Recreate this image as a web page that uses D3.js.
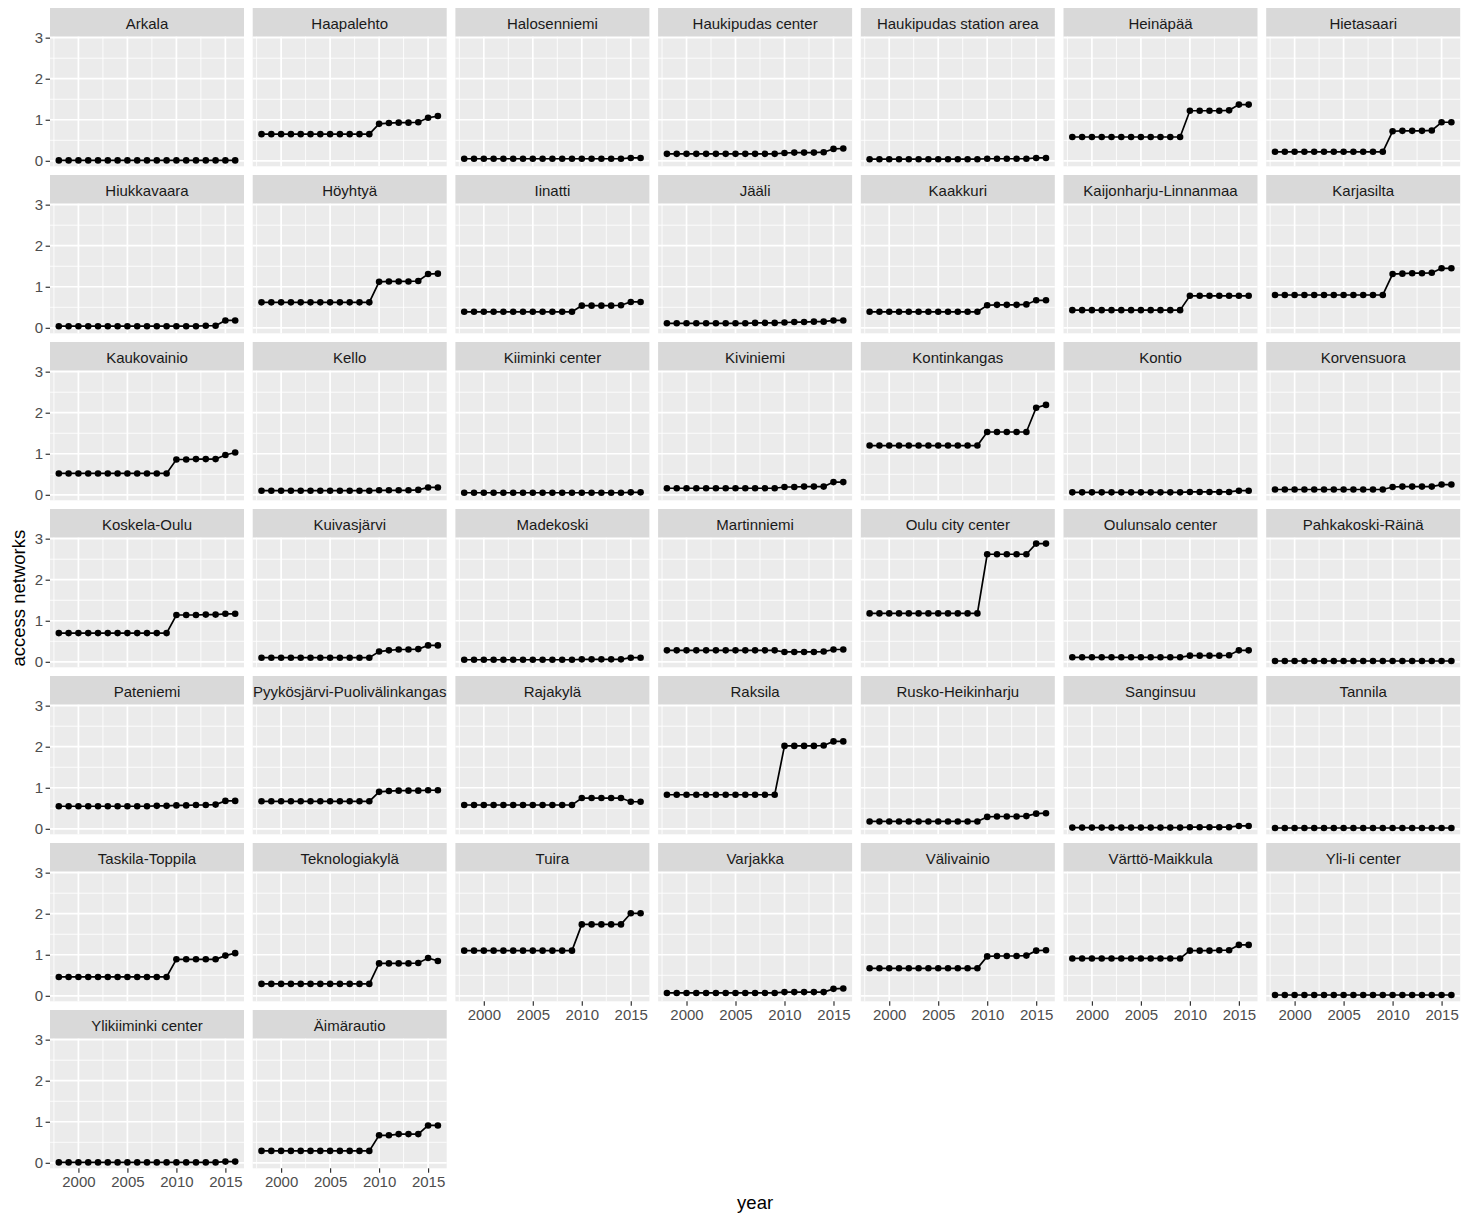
<!DOCTYPE html>
<html>
<head>
<meta charset="utf-8">
<script src="https://cdn.jsdelivr.net/npm/d3@7"></script>
<style>
  html, body { margin: 0; padding: 0; background: #ffffff; }
  svg { display: block; font-family: "Liberation Sans", Arial, sans-serif; }
</style>
</head>
<body>
<svg id="chart" width="1461" height="1216"></svg>
<script>
// Years observed for every region
const years = [1998, 1999, 2000, 2001, 2002, 2003, 2004, 2005, 2006, 2007,
               2008, 2009, 2010, 2011, 2012, 2013, 2014, 2015, 2016];

// Facet order (alphabetical, as in the panel grid)
const regions = [
  "Arkala", "Haapalehto", "Halosenniemi", "Haukipudas center", "Haukipudas station area", "Heinäpää", "Hietasaari",
  "Hiukkavaara", "Höyhtyä", "Iinatti", "Jääli", "Kaakkuri", "Kaijonharju-Linnanmaa", "Karjasilta",
  "Kaukovainio", "Kello", "Kiiminki center", "Kiviniemi", "Kontinkangas", "Kontio", "Korvensuora",
  "Koskela-Oulu", "Kuivasjärvi", "Madekoski", "Martinniemi", "Oulu city center", "Oulunsalo center", "Pahkakoski-Räinä",
  "Pateniemi", "Pyykösjärvi-Puolivälinkangas", "Rajakylä", "Raksila", "Rusko-Heikinharju", "Sanginsuu", "Tannila",
  "Taskila-Toppila", "Teknologiakylä", "Tuira", "Varjakka", "Välivainio", "Värttö-Maikkula", "Yli-Ii center",
  "Ylikiiminki center", "Äimärautio"
];

// Access networks per region, one row per region in the order above, one value per year
const accessNetworks = [
  [0.01,0.01,0.01,0.01,0.01,0.01,0.01,0.01,0.01,0.01,0.01,0.01,0.01,0.01,0.01,0.01,0.01,0.01,0.01],
  [0.65,0.65,0.65,0.65,0.65,0.65,0.65,0.65,0.65,0.65,0.65,0.65,0.90,0.92,0.93,0.93,0.94,1.05,1.09],
  [0.05,0.05,0.05,0.05,0.05,0.05,0.05,0.05,0.05,0.05,0.05,0.05,0.05,0.05,0.05,0.05,0.05,0.07,0.07],
  [0.17,0.17,0.17,0.17,0.17,0.17,0.17,0.17,0.17,0.17,0.17,0.17,0.19,0.20,0.20,0.20,0.21,0.29,0.30],
  [0.04,0.04,0.04,0.04,0.04,0.04,0.04,0.04,0.04,0.04,0.04,0.04,0.05,0.05,0.05,0.05,0.05,0.07,0.07],
  [0.58,0.58,0.58,0.58,0.58,0.58,0.58,0.58,0.58,0.58,0.58,0.58,1.22,1.22,1.22,1.22,1.23,1.37,1.37],
  [0.22,0.22,0.22,0.22,0.22,0.22,0.22,0.22,0.22,0.22,0.22,0.22,0.72,0.73,0.73,0.73,0.74,0.94,0.94],

  [0.04,0.04,0.04,0.04,0.04,0.04,0.04,0.04,0.04,0.04,0.04,0.04,0.04,0.04,0.04,0.05,0.05,0.18,0.18],
  [0.62,0.62,0.62,0.62,0.62,0.62,0.62,0.62,0.62,0.62,0.62,0.62,1.12,1.13,1.13,1.13,1.14,1.31,1.32],
  [0.39,0.39,0.39,0.39,0.39,0.39,0.39,0.39,0.39,0.39,0.39,0.39,0.54,0.54,0.54,0.54,0.55,0.63,0.63],
  [0.11,0.11,0.11,0.11,0.11,0.11,0.11,0.11,0.11,0.12,0.12,0.12,0.13,0.14,0.14,0.15,0.15,0.18,0.18],
  [0.39,0.39,0.39,0.39,0.39,0.39,0.39,0.39,0.39,0.39,0.39,0.39,0.55,0.56,0.56,0.56,0.57,0.67,0.67],
  [0.43,0.43,0.43,0.43,0.43,0.43,0.43,0.43,0.43,0.43,0.43,0.43,0.78,0.78,0.78,0.78,0.78,0.78,0.78],
  [0.80,0.80,0.80,0.80,0.80,0.80,0.80,0.80,0.80,0.80,0.80,0.80,1.31,1.32,1.33,1.33,1.34,1.45,1.45],

  [0.52,0.52,0.52,0.52,0.52,0.52,0.52,0.52,0.52,0.52,0.52,0.52,0.86,0.86,0.87,0.87,0.87,0.97,1.03],
  [0.10,0.10,0.10,0.10,0.10,0.10,0.10,0.10,0.10,0.10,0.10,0.10,0.11,0.11,0.11,0.11,0.12,0.18,0.18],
  [0.05,0.05,0.05,0.05,0.05,0.05,0.05,0.05,0.05,0.05,0.05,0.05,0.05,0.05,0.05,0.05,0.05,0.06,0.06],
  [0.16,0.16,0.16,0.16,0.16,0.16,0.16,0.16,0.16,0.16,0.16,0.16,0.19,0.19,0.20,0.20,0.20,0.31,0.31],
  [1.20,1.20,1.20,1.20,1.20,1.20,1.20,1.20,1.20,1.20,1.20,1.20,1.53,1.53,1.53,1.53,1.53,2.12,2.19],
  [0.06,0.06,0.06,0.06,0.06,0.06,0.06,0.06,0.06,0.06,0.06,0.06,0.07,0.07,0.07,0.07,0.07,0.10,0.10],
  [0.13,0.13,0.13,0.13,0.13,0.13,0.13,0.13,0.13,0.13,0.13,0.13,0.19,0.20,0.20,0.20,0.20,0.25,0.25],

  [0.70,0.70,0.70,0.70,0.70,0.70,0.70,0.70,0.70,0.70,0.70,0.70,1.14,1.14,1.14,1.15,1.15,1.17,1.17],
  [0.10,0.10,0.10,0.10,0.10,0.10,0.10,0.10,0.10,0.10,0.10,0.10,0.25,0.28,0.30,0.30,0.31,0.40,0.40],
  [0.05,0.05,0.05,0.05,0.05,0.05,0.05,0.05,0.05,0.05,0.05,0.05,0.06,0.06,0.06,0.06,0.06,0.10,0.10],
  [0.28,0.28,0.28,0.28,0.28,0.28,0.28,0.28,0.28,0.28,0.28,0.28,0.24,0.24,0.24,0.24,0.25,0.30,0.30],
  [1.18,1.18,1.18,1.18,1.18,1.18,1.18,1.18,1.18,1.18,1.18,1.18,2.62,2.62,2.62,2.62,2.62,2.88,2.88],
  [0.11,0.11,0.11,0.11,0.11,0.11,0.11,0.11,0.11,0.11,0.11,0.11,0.15,0.15,0.15,0.15,0.16,0.28,0.28],
  [0.02,0.02,0.02,0.02,0.02,0.02,0.02,0.02,0.02,0.02,0.02,0.02,0.02,0.02,0.02,0.02,0.02,0.02,0.02],

  [0.55,0.55,0.55,0.55,0.55,0.55,0.55,0.55,0.55,0.55,0.56,0.56,0.57,0.57,0.58,0.58,0.59,0.68,0.68],
  [0.67,0.67,0.67,0.67,0.67,0.67,0.67,0.67,0.67,0.67,0.67,0.67,0.90,0.92,0.93,0.93,0.93,0.94,0.94],
  [0.58,0.58,0.58,0.58,0.58,0.58,0.58,0.58,0.58,0.58,0.58,0.58,0.75,0.75,0.75,0.75,0.75,0.66,0.66],
  [0.83,0.83,0.83,0.83,0.83,0.83,0.83,0.83,0.83,0.83,0.83,0.83,2.02,2.02,2.02,2.02,2.03,2.13,2.13],
  [0.18,0.18,0.18,0.18,0.18,0.18,0.18,0.18,0.18,0.18,0.18,0.18,0.29,0.30,0.30,0.30,0.31,0.37,0.38],
  [0.03,0.03,0.03,0.03,0.03,0.03,0.03,0.03,0.03,0.03,0.03,0.03,0.04,0.04,0.04,0.04,0.04,0.07,0.07],
  [0.02,0.02,0.02,0.02,0.02,0.02,0.02,0.02,0.02,0.02,0.02,0.02,0.02,0.02,0.02,0.02,0.02,0.02,0.02],

  [0.46,0.46,0.46,0.46,0.46,0.46,0.46,0.46,0.46,0.46,0.46,0.46,0.89,0.89,0.89,0.89,0.89,0.98,1.04],
  [0.29,0.29,0.29,0.29,0.29,0.29,0.29,0.29,0.29,0.29,0.29,0.29,0.79,0.79,0.79,0.79,0.80,0.92,0.85],
  [1.10,1.10,1.10,1.10,1.10,1.10,1.10,1.10,1.10,1.10,1.10,1.10,1.74,1.74,1.74,1.74,1.74,2.01,2.01],
  [0.07,0.07,0.07,0.07,0.07,0.07,0.07,0.07,0.07,0.07,0.07,0.07,0.09,0.09,0.09,0.09,0.09,0.17,0.18],
  [0.67,0.67,0.67,0.67,0.67,0.67,0.67,0.67,0.67,0.67,0.67,0.67,0.96,0.97,0.97,0.97,0.98,1.10,1.11],
  [0.91,0.91,0.91,0.91,0.91,0.91,0.91,0.91,0.91,0.91,0.91,0.91,1.10,1.10,1.10,1.11,1.11,1.24,1.24],
  [0.02,0.02,0.02,0.02,0.02,0.02,0.02,0.02,0.02,0.02,0.02,0.02,0.02,0.02,0.02,0.02,0.02,0.02,0.02],

  [0.01,0.01,0.01,0.01,0.01,0.01,0.01,0.01,0.01,0.01,0.01,0.01,0.01,0.01,0.01,0.01,0.01,0.03,0.03],
  [0.29,0.29,0.29,0.29,0.29,0.29,0.29,0.29,0.29,0.29,0.29,0.29,0.67,0.67,0.70,0.70,0.70,0.91,0.91]
];

const xTicks = [2000, 2005, 2010, 2015];
const yTicks = [0, 1, 2, 3];
const xTitle = "year";
const yTitle = "access networks";

// ---- layout ----
const nCols = 7;
const gridLeft = 50, gridTop = 8;
const panelW = 194, gap = 8.7;
const stripH = 28.7, panelH = 129.6;
const colPitch = panelW + gap;
const rowPitch = stripH + panelH + gap;
const nRows = Math.ceil(regions.length / nCols);
const tickFont = "15px", stripFont = "15px", titleFont = "18.5px";

const svg = d3.select("#chart");

// Shared scales with a 5% margin on each side of the data range
const xExt = d3.extent(years);
const xPad = (xExt[1] - xExt[0]) * 0.05;
const x = d3.scaleLinear().domain([xExt[0] - xPad, xExt[1] + xPad]).range([0, panelW]);

const allVals = accessNetworks.flat();
const yExt = d3.extent(allVals);
const yPad = (yExt[1] - yExt[0]) * 0.05;
const y = d3.scaleLinear().domain([yExt[0] - yPad, yExt[1] + yPad]).range([panelH, 0]);

const xMinor = [1997.5, 2002.5, 2007.5, 2012.5, 2017.5].filter(v => v >= x.domain()[0] && v <= x.domain()[1]);
const yMinor = [-0.5, 0.5, 1.5, 2.5, 3.5].filter(v => v >= y.domain()[0] && v <= y.domain()[1]);

const line = d3.line().x(d => x(d.year)).y(d => y(d.value));

regions.forEach((name, i) => {
  const col = i % nCols, row = Math.floor(i / nCols);
  const gx = gridLeft + col * colPitch;
  const gy = gridTop + row * rowPitch;
  const g = svg.append("g").attr("transform", `translate(${gx},${gy})`);

  // strip
  g.append("rect").attr("x", 0).attr("y", 0).attr("width", panelW).attr("height", stripH)
    .attr("fill", "#D9D9D9");
  g.append("text").attr("x", panelW / 2).attr("y", stripH / 2 + 0.8)
    .attr("text-anchor", "middle").attr("dominant-baseline", "central")
    .attr("font-size", stripFont).attr("fill", "#1A1A1A").text(name);

  const p = g.append("g").attr("transform", `translate(0,${stripH})`);
  p.append("rect").attr("width", panelW).attr("height", panelH).attr("fill", "#EBEBEB");

  // minor grid
  p.selectAll(".gxm").data(xMinor).join("line")
    .attr("x1", d => x(d)).attr("x2", d => x(d)).attr("y1", 0).attr("y2", panelH)
    .attr("stroke", "#fff").attr("stroke-width", 0.85);
  p.selectAll(".gym").data(yMinor).join("line")
    .attr("y1", d => y(d)).attr("y2", d => y(d)).attr("x1", 0).attr("x2", panelW)
    .attr("stroke", "#fff").attr("stroke-width", 0.85);
  // major grid
  p.selectAll(".gx").data(xTicks).join("line")
    .attr("x1", d => x(d)).attr("x2", d => x(d)).attr("y1", 0).attr("y2", panelH)
    .attr("stroke", "#fff").attr("stroke-width", 1.7);
  p.selectAll(".gy").data(yTicks).join("line")
    .attr("y1", d => y(d)).attr("y2", d => y(d)).attr("x1", 0).attr("x2", panelW)
    .attr("stroke", "#fff").attr("stroke-width", 1.7);

  const pts = years.map((yr, k) => ({ year: yr, value: accessNetworks[i][k] }));
  p.append("path").datum(pts).attr("d", line)
    .attr("fill", "none").attr("stroke", "#000").attr("stroke-width", 1.7);
  p.selectAll("circle").data(pts).join("circle")
    .attr("cx", d => x(d.year)).attr("cy", d => y(d.value)).attr("r", 3.3).attr("fill", "#000");

  // y axis on first column
  if (col === 0) {
    const ya = p.append("g").call(d3.axisLeft(y).tickValues(yTicks).tickSize(4.4).tickPadding(2.6).tickFormat(d3.format("d")));
    ya.select(".domain").remove();
    ya.selectAll("line").attr("stroke", "#333333").attr("stroke-width", 1.2);
    ya.selectAll("text").attr("fill", "#4D4D4D").attr("font-size", tickFont)
      .attr("font-family", "Liberation Sans, Arial, sans-serif");
  }
  // x axis where there is no panel beneath
  if (i + nCols >= regions.length) {
    const xa = p.append("g").attr("transform", `translate(0,${panelH})`)
      .call(d3.axisBottom(x).tickValues(xTicks).tickSize(4.4).tickPadding(3.2).tickFormat(d3.format("d")));
    xa.select(".domain").remove();
    xa.selectAll("line").attr("stroke", "#333333").attr("stroke-width", 1.2);
    xa.selectAll("text").attr("fill", "#4D4D4D").attr("font-size", tickFont)
      .attr("font-family", "Liberation Sans, Arial, sans-serif");
  }
});

// axis titles
const plotRight = gridLeft + (nCols - 1) * colPitch + panelW;
const plotBottom = gridTop + (nRows - 1) * rowPitch + stripH + panelH;
svg.append("text").attr("x", (gridLeft + plotRight) / 2).attr("y", 1209)
  .attr("text-anchor", "middle").attr("font-size", titleFont).attr("fill", "#000").text(xTitle);
svg.append("text").attr("transform", `translate(25,${(gridTop + plotBottom) / 2 + 10}) rotate(-90)`)
  .attr("text-anchor", "middle").attr("font-size", titleFont).attr("fill", "#000").text(yTitle);
</script>
</body>
</html>
